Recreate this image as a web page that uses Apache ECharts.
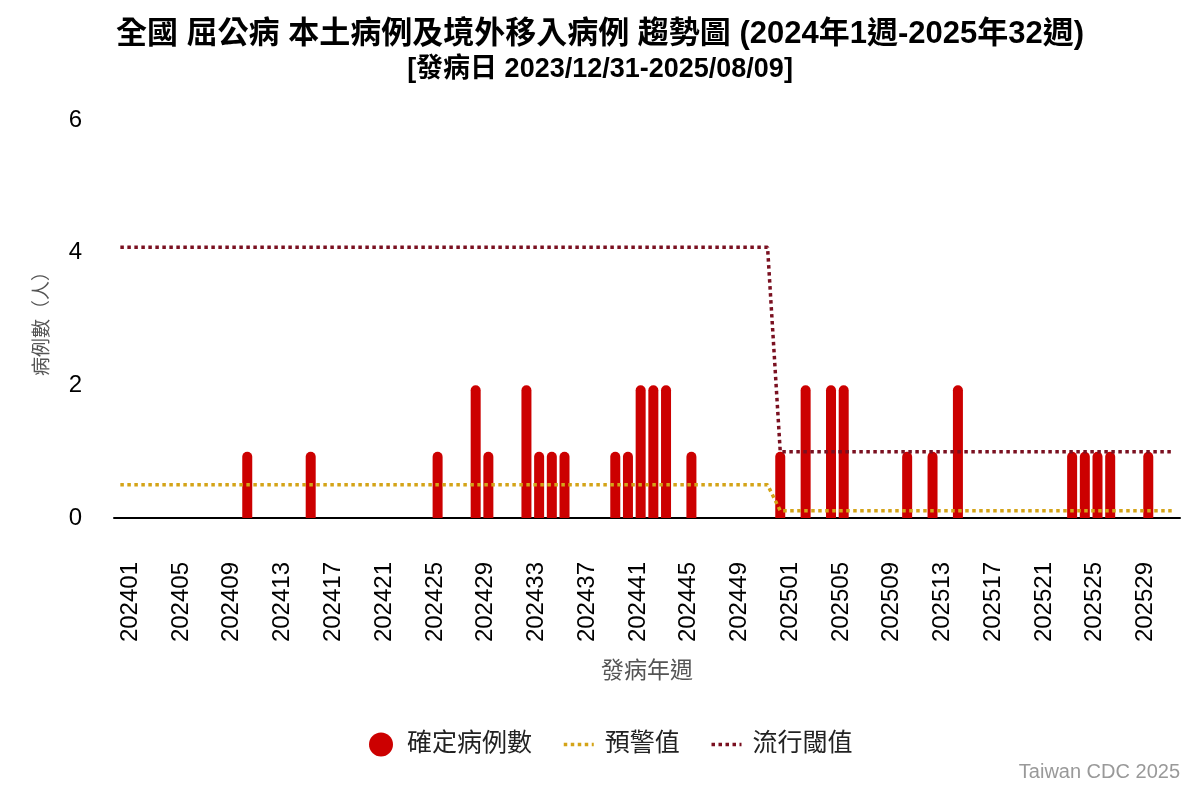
<!DOCTYPE html>
<html>
<head>
<meta charset="utf-8">
<title>屈公病 趨勢圖</title>
<script src="https://cdn.jsdelivr.net/npm/echarts@6/dist/echarts.min.js"></script>
<style>
html, body {
	margin: 0;
	padding: 0;
	background: #fff;
}
#chart {
	width: 1200px;
	height: 800px;
}
</style>
</head>
<body>
<div id="chart"></div>
<script type="text/javascript">

    // 週別 (2024年1週 - 2025年32週)
    var weeks2024 = ['202401','202402','202403','202404','202405','202406','202407','202408','202409','202410',
        '202411','202412','202413','202414','202415','202416','202417','202418','202419','202420',
        '202421','202422','202423','202424','202425','202426','202427','202428','202429','202430',
        '202431','202432','202433','202434','202435','202436','202437','202438','202439','202440',
        '202441','202442','202443','202444','202445','202446','202447','202448','202449','202450',
        '202451','202452'];
    var weeks2025 = ['202501','202502','202503','202504','202505','202506','202507','202508','202509','202510',
        '202511','202512','202513','202514','202515','202516','202517','202518','202519','202520',
        '202521','202522','202523','202524','202525','202526','202527','202528','202529','202530',
        '202531','202532'];

    // 確定病例數
    var cases2024 = [0,0,0,0,0,0,0,0,0,0, 1,0,0,0,0,1,0,0,0,0, 0,0,0,0,0,1,0,0,2,1,
        0,0,2,1,1,1,0,0,0,1, 1,2,2,2,0,1,0,0,0,0, 0,0];
    var cases2025 = [1,0,2,0,2,2,0,0,0,0, 1,0,1,0,2,0,0,0,0,0, 0,0,0,1,1,1,1,0,0,1, 0,0];

    // 預警值
    var alert2024 = [0.5,0.5,0.5,0.5,0.5,0.5,0.5,0.5,0.5,0.5, 0.5,0.5,0.5,0.5,0.5,0.5,0.5,0.5,0.5,0.5,
        0.5,0.5,0.5,0.5,0.5,0.5,0.5,0.5,0.5,0.5, 0.5,0.5,0.5,0.5,0.5,0.5,0.5,0.5,0.5,0.5,
        0.5,0.5,0.5,0.5,0.5,0.5,0.5,0.5,0.5,0.5, 0.5,0.5];
    var alert2025 = [0.11,0.11,0.11,0.11,0.11,0.11,0.11,0.11,0.11,0.11, 0.11,0.11,0.11,0.11,0.11,0.11,0.11,0.11,0.11,0.11,
        0.11,0.11,0.11,0.11,0.11,0.11,0.11,0.11,0.11,0.11, 0.11,0.11];

    // 流行閾值
    var epidemic2024 = [4.08,4.08,4.08,4.08,4.08,4.08,4.08,4.08,4.08,4.08, 4.08,4.08,4.08,4.08,4.08,4.08,4.08,4.08,4.08,4.08,
        4.08,4.08,4.08,4.08,4.08,4.08,4.08,4.08,4.08,4.08, 4.08,4.08,4.08,4.08,4.08,4.08,4.08,4.08,4.08,4.08,
        4.08,4.08,4.08,4.08,4.08,4.08,4.08,4.08,4.08,4.08, 4.08,4.08];
    var epidemic2025 = [1,1,1,1,1,1,1,1,1,1, 1,1,1,1,1,1,1,1,1,1, 1,1,1,1,1,1,1,1,1,1, 1,1];

    var yTicks = [0, 2, 4, 6];

    var weekList = weeks2024.concat(weeks2025);
    var caseList = cases2024.concat(cases2025);
    var alertList = alert2024.concat(alert2025);
    var epidemicList = epidemic2024.concat(epidemic2025);

    var cjk = '"Liberation Sans", Arial, "Noto Sans CJK TC", sans-serif';
    var dots = [3.5, 3.5];

    var chart = echarts.init(document.getElementById('chart'));

    var option = {
        animation: false,
        backgroundColor: '#fff',
        title: {
            left: 'center',
            top: 14,
            text: '全國 屈公病 本土病例及境外移入病例 趨勢圖 (2024年1週-2025年32週)',
            subtext: '[發病日 2023/12/31-2025/08/09]',
            itemGap: 6,
            textStyle: {fontFamily: cjk, fontSize: 31, fontWeight: 'bold', color: '#000'},
            subtextStyle: {fontFamily: cjk, fontSize: 27, fontWeight: 'bold', color: '#000'}
        },
        legend: {
            top: 727,
            left: 364,
            itemWidth: 30,
            itemHeight: 24,
            itemGap: 30,
            textStyle: {fontFamily: cjk, fontSize: 25, color: '#222', padding: [0, 0, 0, 6]},
            data: [
                {name: '確定病例數', icon: 'circle'},
                {name: '預警值', itemStyle: {opacity: 0}, lineStyle: {width: 3.5, type: dots}},
                {name: '流行閾值', itemStyle: {opacity: 0}, lineStyle: {width: 3.5, type: dots}}
            ]
        },
        grid: {left: 114, right: 20, top: 120, bottom: 282},
        xAxis: {
            type: 'category',
            data: weekList,
            name: '發病年週',
            nameLocation: 'middle',
            nameGap: 142,
            nameTextStyle: {fontFamily: cjk, fontSize: 23, color: '#555'},
            axisLine: {lineStyle: {color: '#000', width: 2}},
            axisTick: {show: false},
            axisLabel: {
                interval: 3,
                rotate: 90,
                margin: 44,
                fontFamily: cjk,
                fontSize: 24,
                color: '#000',
                verticalAlign: 'top',
                lineHeight: 20
            }
        },
        yAxis: {
            type: 'value',
            min: yTicks[0],
            max: yTicks[yTicks.length - 1],
            interval: 2,
            name: '病例數（人）',
            nameLocation: 'middle',
            nameGap: 62,
            nameTextStyle: {fontFamily: cjk, fontSize: 19, color: '#555'},
            axisLine: {show: false},
            axisTick: {show: false},
            splitLine: {show: false},
            axisLabel: {margin: 32, fontFamily: cjk, fontSize: 24, color: '#000'}
        },
        series: [{
            name: '確定病例數',
            type: 'bar',
            data: caseList,
            barWidth: 10,
            itemStyle: {color: '#CC0000', borderRadius: [5, 5, 0, 0]},
            z: 2
        }, {
            name: '預警值',
            type: 'line',
            data: alertList,
            symbol: 'none',
            itemStyle: {color: '#D4A418'},
            lineStyle: {color: '#D4A418', width: 3.5, type: dots},
            z: 3
        }, {
            name: '流行閾值',
            type: 'line',
            data: epidemicList,
            symbol: 'none',
            itemStyle: {color: '#7A1020'},
            lineStyle: {color: '#7A1020', width: 3.5, type: dots},
            z: 3
        }],
        graphic: [{
            type: 'text',
            right: 20,
            top: 762,
            style: {
                text: 'Taiwan CDC 2025',
                fontFamily: cjk,
                fontSize: 20,
                fill: '#999'
            }
        }]
    };

    chart.setOption(option);
</script>
</body>
</html>
